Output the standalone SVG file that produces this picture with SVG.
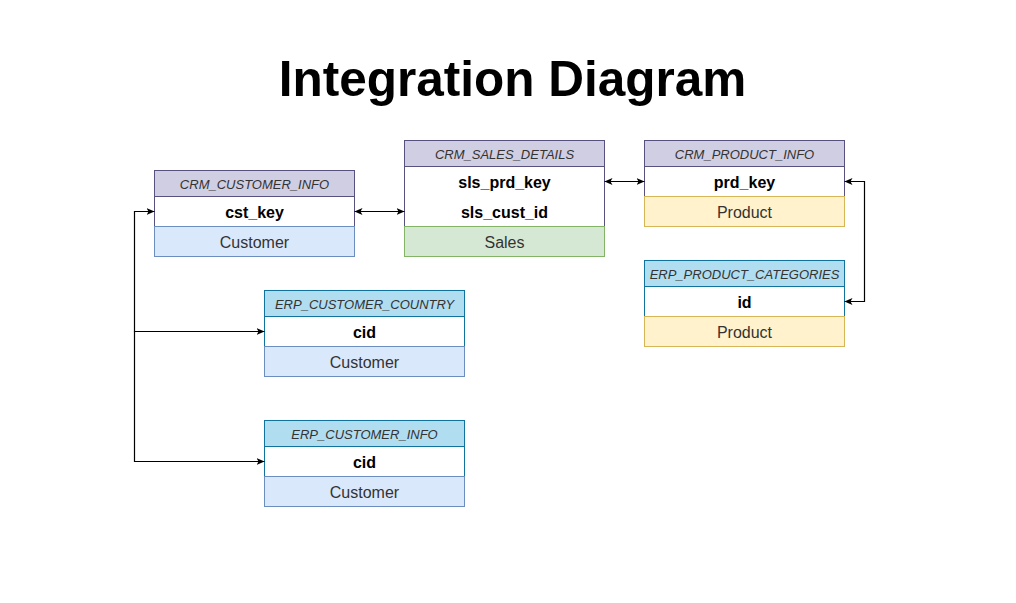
<svg xmlns="http://www.w3.org/2000/svg" width="1016" height="603" viewBox="0 0 1016 603">
<style>
.title{font-family:"Liberation Sans",Arial,sans-serif;font-weight:bold;font-size:49.5px;fill:#000;text-anchor:middle}
.hdr{font-family:"Liberation Sans",Arial,sans-serif;font-style:italic;font-size:13px;fill:#333;text-anchor:middle}
.key{font-family:"Liberation Sans",Arial,sans-serif;font-weight:bold;font-size:16px;fill:#000;text-anchor:middle}
.ftr{font-family:"Liberation Sans",Arial,sans-serif;font-size:16px;fill:#333;text-anchor:middle}
.hp{fill:#d0cee2;stroke:#56517e}
.hb{fill:#b1ddf0;stroke:#10739e}
.rp{fill:#fff;stroke:#56517e}
.rb{fill:#fff;stroke:#10739e}
.fb{fill:#dae8fc;stroke:#6c8ebf}
.fg{fill:#d5e8d4;stroke:#82b366}
.fy{fill:#fff2cc;stroke:#d6b656}
.conn{fill:none;stroke:#000;stroke-width:1.2}
</style>
<defs>
<marker id="arr" viewBox="0 0 8 8" refX="8" refY="4" markerWidth="8" markerHeight="8" markerUnits="userSpaceOnUse" orient="auto-start-reverse">
<path d="M0,0.5 L8,4 L0,7.5 L2,4 z" fill="#000"/>
</marker>
</defs>
<rect width="1016" height="603" fill="#fff"/>
<text class="title" x="512.5" y="96">Integration Diagram</text>

<g id="crm_customer_info">
<rect class="hp" x="154.5" y="170.5" width="200" height="26"/>
<rect class="rp" x="154.5" y="196.5" width="200" height="30"/>
<rect class="fb" x="154.5" y="226.5" width="200" height="30"/>
<text class="hdr" x="254.5" y="188.5">CRM_CUSTOMER_INFO</text>
<text class="key" x="254.5" y="218">cst_key</text>
<text class="ftr" x="254.5" y="248">Customer</text>
</g>

<g id="crm_sales_details">
<rect class="hp" x="404.5" y="140.5" width="200" height="26"/>
<rect class="rp" x="404.5" y="166.5" width="200" height="60"/>
<rect class="fg" x="404.5" y="226.5" width="200" height="30"/>
<text class="hdr" x="504.5" y="158.5">CRM_SALES_DETAILS</text>
<text class="key" x="504.5" y="188">sls_prd_key</text>
<text class="key" x="504.5" y="218">sls_cust_id</text>
<text class="ftr" x="504.5" y="248">Sales</text>
</g>

<g id="crm_product_info">
<rect class="hp" x="644.5" y="140.5" width="200" height="26"/>
<rect class="rp" x="644.5" y="166.5" width="200" height="30"/>
<rect class="fy" x="644.5" y="196.5" width="200" height="30"/>
<text class="hdr" x="744.5" y="158.5">CRM_PRODUCT_INFO</text>
<text class="key" x="744.5" y="188">prd_key</text>
<text class="ftr" x="744.5" y="218">Product</text>
</g>

<g id="erp_product_categories">
<rect class="hb" x="644.5" y="260.5" width="200" height="26"/>
<rect class="rb" x="644.5" y="286.5" width="200" height="30"/>
<rect class="fy" x="644.5" y="316.5" width="200" height="30"/>
<text class="hdr" x="744.5" y="278.5">ERP_PRODUCT_CATEGORIES</text>
<text class="key" x="744.5" y="308">id</text>
<text class="ftr" x="744.5" y="338">Product</text>
</g>

<g id="erp_customer_country">
<rect class="hb" x="264.5" y="290.5" width="200" height="26"/>
<rect class="rb" x="264.5" y="316.5" width="200" height="30"/>
<rect class="fb" x="264.5" y="346.5" width="200" height="30"/>
<text class="hdr" x="364.5" y="308.5">ERP_CUSTOMER_COUNTRY</text>
<text class="key" x="364.5" y="338">cid</text>
<text class="ftr" x="364.5" y="368">Customer</text>
</g>

<g id="erp_customer_info">
<rect class="hb" x="264.5" y="420.5" width="200" height="26"/>
<rect class="rb" x="264.5" y="446.5" width="200" height="30"/>
<rect class="fb" x="264.5" y="476.5" width="200" height="30"/>
<text class="hdr" x="364.5" y="438.5">ERP_CUSTOMER_INFO</text>
<text class="key" x="364.5" y="468">cid</text>
<text class="ftr" x="364.5" y="498">Customer</text>
</g>

<g id="connectors">
<path class="conn" d="M354.5,211.5 H404.5" marker-start="url(#arr)" marker-end="url(#arr)"/>
<path class="conn" d="M604.5,181.5 H644.5" marker-start="url(#arr)" marker-end="url(#arr)"/>
<path class="conn" d="M844.5,181.5 H864.5 V301.5 H844.5" marker-start="url(#arr)" marker-end="url(#arr)"/>
<path class="conn" d="M154.5,211.5 H134.5 V331.5 H264.5" marker-start="url(#arr)" marker-end="url(#arr)"/>
<path class="conn" d="M134.5,331.5 V461.5 H264.5" marker-end="url(#arr)"/>
</g>
</svg>
